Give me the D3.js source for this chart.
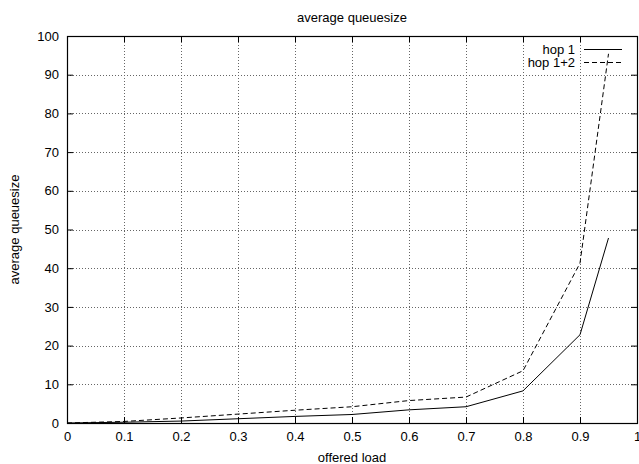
<!doctype html>
<meta charset="utf-8">
<body style="margin:0;background:#fff">
<style>
body { font-family: "Liberation Sans", Arial, sans-serif; }
svg text { font-size: 13px; fill: #000; }
.grid line { stroke: #666; stroke-dasharray: 1,2; }
</style>
<svg id="chart" width="639" height="464"></svg>
<script src="https://cdnjs.cloudflare.com/ajax/libs/d3/7.8.5/d3.min.js"></script>
<script>
// offered load (x) and average queue size per series
var load  = [0, 0.1, 0.2, 0.3, 0.4, 0.5, 0.6, 0.7, 0.8, 0.9, 0.95];
var hop1  = [0, 0.2, 0.5, 1.1, 1.7, 2.2, 3.4, 4.2, 8.3, 22.8, 47.8];
var hop12 = [0, 0.4, 1.3, 2.3, 3.3, 4.2, 5.8, 6.7, 13.5, 41.3, 95.4];
var xTicks = [0, 0.1, 0.2, 0.3, 0.4, 0.5, 0.6, 0.7, 0.8, 0.9, 1];
var yTicks = [0, 10, 20, 30, 40, 50, 60, 70, 80, 90, 100];
var seriesNames = ["hop 1", "hop 1+2"];

// plot box (note: "top" is taken by window.top, so use other names)
var plotL = 67, plotR = 637, plotT = 36, plotB = 423;

var svg = d3.select("#chart");

var x = d3.scaleLinear().domain([0, 1]).range([plotL, plotR]);
var y = d3.scaleLinear().domain([0, 100]).range([plotB, plotT]);

// dotted grid
var grid = svg.append("g").attr("class", "grid");
grid.selectAll(".gx")
    .data(xTicks.slice(1, -1))
  .enter().append("line")
    .attr("x1", function(d) { return Math.round(x(d)) + 0.5; })
    .attr("x2", function(d) { return Math.round(x(d)) + 0.5; })
    .attr("y1", plotT).attr("y2", plotB);
grid.selectAll(".gy")
    .data(yTicks.slice(1, -1))
  .enter().append("line")
    .attr("y1", function(d) { return Math.round(y(d)) + 0.5; })
    .attr("y2", function(d) { return Math.round(y(d)) + 0.5; })
    .attr("x1", plotL).attr("x2", plotR);

// axes with inward ticks (plus mirrored ones)
var tickFmt = function(d) { return d3.format("")(d); };
svg.append("g")
    .attr("transform", "translate(" + plotL + ",0)")
    .call(d3.axisLeft(y).tickValues(yTicks).tickSize(-6).tickPadding(8))
    .call(function(g) { g.select(".domain").remove(); });
svg.append("g")
    .attr("transform", "translate(" + plotR + ",0)")
    .call(d3.axisRight(y).tickValues(yTicks).tickSize(-6).tickFormat(""))
    .call(function(g) { g.select(".domain").remove(); });
svg.append("g")
    .attr("transform", "translate(0," + plotB + ")")
    .call(d3.axisBottom(x).tickValues(xTicks).tickSize(-6).tickPadding(9).tickFormat(tickFmt))
    .call(function(g) { g.select(".domain").remove(); });
svg.append("g")
    .attr("transform", "translate(0," + plotT + ")")
    .call(d3.axisTop(x).tickValues(xTicks).tickSize(-6).tickFormat(""))
    .call(function(g) { g.select(".domain").remove(); });

svg.selectAll(".tick text").style("font-size", "13px").attr("font-family", null);

// border
svg.append("rect")
    .attr("x", plotL + 0.5).attr("y", plotT + 0.5)
    .attr("width", plotR - plotL).attr("height", plotB - plotT)
    .attr("fill", "none").attr("stroke", "#000").attr("stroke-width", 1.2);

// series lines
var line = d3.line()
    .x(function(d) { return x(d[0]); })
    .y(function(d) { return y(d[1]); });

svg.append("path")
    .datum(d3.zip(load, hop1))
    .attr("d", line)
    .attr("fill", "none").attr("stroke", "#000").attr("stroke-width", 1);
svg.append("path")
    .datum(d3.zip(load, hop12))
    .attr("d", line)
    .attr("fill", "none").attr("stroke", "#000").attr("stroke-width", 1)
    .attr("stroke-dasharray", "5,3");

// legend
var dashes = [null, "5,3"];
seriesNames.forEach(function(name, i) {
  var ly = 49 + i * 13;
  svg.append("text")
      .attr("x", 575).attr("y", ly).attr("dy", "0.35em")
      .attr("text-anchor", "end")
      .text(name);
  svg.append("line")
      .attr("x1", 584).attr("x2", 622)
      .attr("y1", ly + 0.5).attr("y2", ly + 0.5)
      .attr("stroke", "#000").attr("stroke-dasharray", dashes[i]);
});

// titles
svg.append("text")
    .attr("x", (plotL + plotR) / 2).attr("y", 17).attr("dy", "0.35em")
    .attr("text-anchor", "middle")
    .text("average queuesize");
svg.append("text")
    .attr("x", (plotL + plotR) / 2).attr("y", 457).attr("dy", "0.35em")
    .attr("text-anchor", "middle")
    .text("offered load");
svg.append("text")
    .attr("transform", "translate(14," + (plotT + plotB) / 2 + ") rotate(-90)")
    .attr("dy", "0.35em")
    .attr("text-anchor", "middle")
    .text("average queuesize");
</script>
</body>
